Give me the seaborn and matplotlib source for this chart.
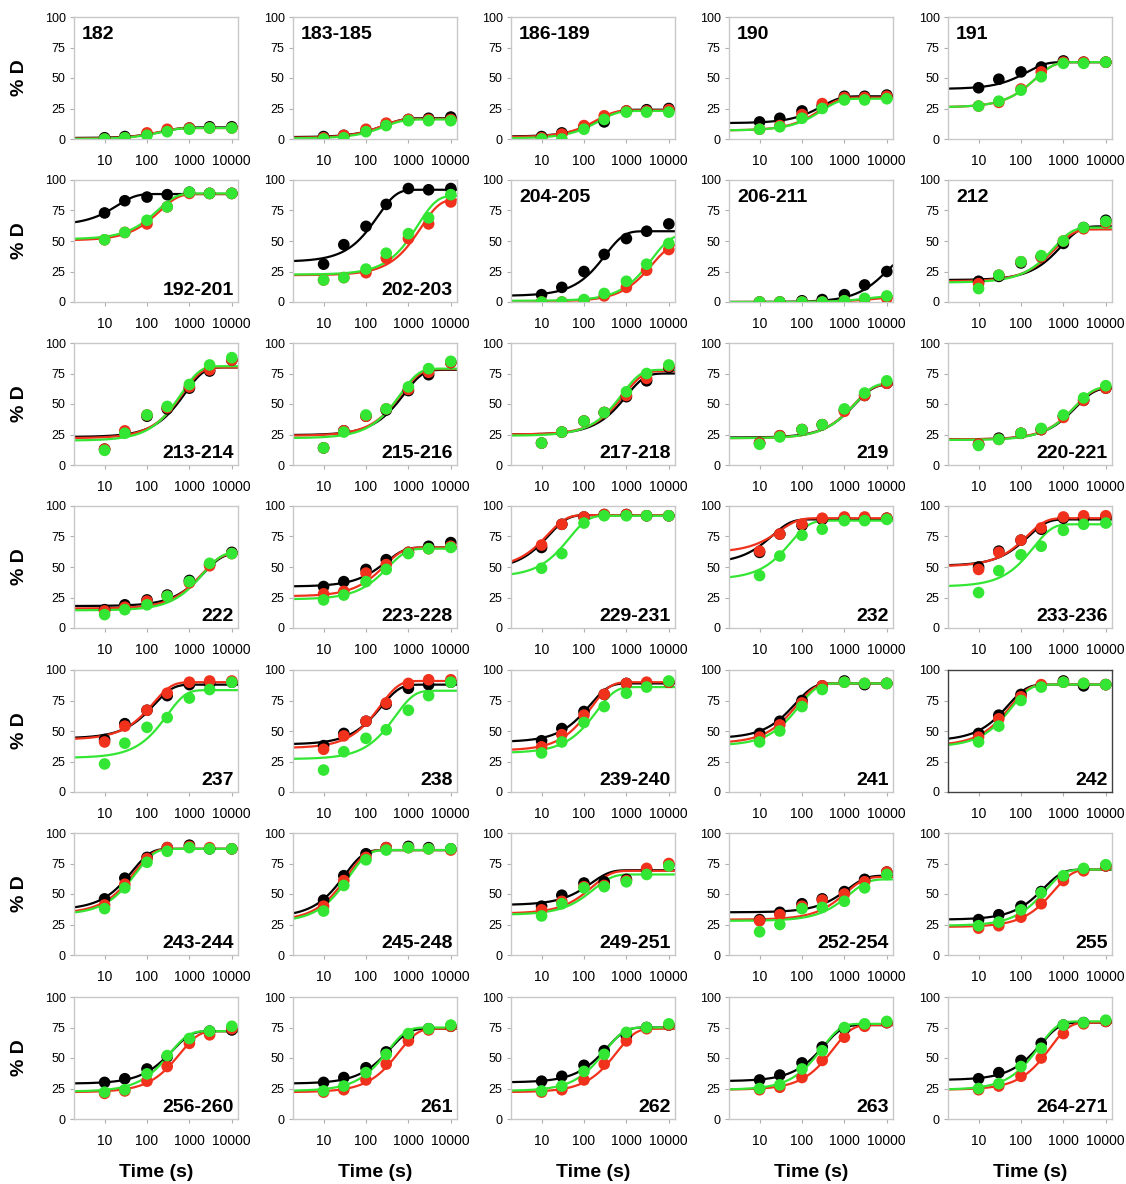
import numpy as np
import matplotlib
matplotlib.use("Agg")
import matplotlib.pyplot as plt
import seaborn as sns

sns.set_style("white")
plt.rcParams['font.family'] = ['Liberation Sans', 'DejaVu Sans']
plt.rcParams['text.color'] = 'black'
plt.rcParams['axes.labelcolor'] = 'black'
plt.rcParams['xtick.color'] = 'black'
plt.rcParams['ytick.color'] = 'black'

# deuteration time points (s)
times = [10, 30, 100, 300, 1000, 3000, 10000]

# peptide labels, row by row
labels = ["182", "183-185", "186-189", "190", "191",
          "192-201", "202-203", "204-205", "206-211", "212",
          "213-214", "215-216", "217-218", "219", "220-221",
          "222", "223-228", "229-231", "232", "233-236",
          "237", "238", "239-240", "241", "242",
          "243-244", "245-248", "249-251", "252-254", "255",
          "256-260", "261", "262", "263", "264-271"]
label_top_left = ["182", "183-185", "186-189", "190", "191", "204-205", "206-211", "212"]

# % D values for each peptide (black, red, green states)
black_pts = [
    [1, 2, 4, 7, 9, 10, 10], [2, 3, 7, 12, 16, 17, 18], [2, 5, 10, 14, 23, 24, 25],
    [14, 17, 23, 27, 35, 35, 36], [42, 49, 55, 59, 64, 63, 63],
    [73, 83, 86, 88, 90, 89, 89], [31, 47, 62, 80, 93, 92, 93], [6, 12, 25, 39, 52, 58, 64],
    [0, 0, 1, 2, 6, 14, 25], [17, 21, 32, 37, 48, 61, 67],
    [13, 27, 40, 46, 63, 77, 86], [14, 28, 40, 45, 61, 74, 84], [18, 27, 36, 43, 56, 69, 80],
    [18, 24, 29, 33, 45, 57, 67], [17, 22, 26, 29, 40, 53, 63],
    [15, 19, 23, 27, 39, 52, 62], [34, 38, 48, 56, 62, 67, 70], [66, 85, 91, 93, 93, 92, 92],
    [62, 77, 84, 89, 90, 90, 90], [50, 63, 72, 81, 90, 90, 91],
    [43, 56, 67, 79, 88, 89, 90], [38, 48, 58, 72, 85, 88, 90], [42, 52, 66, 80, 89, 89, 90],
    [48, 58, 75, 87, 91, 88, 89], [48, 63, 80, 87, 91, 87, 88],
    [46, 63, 80, 88, 90, 87, 87], [45, 65, 83, 88, 89, 88, 87], [40, 49, 59, 60, 62, 70, 74],
    [29, 35, 42, 46, 52, 62, 68], [29, 33, 40, 52, 64, 70, 73],
    [30, 33, 41, 51, 65, 72, 73], [30, 34, 42, 55, 67, 74, 76], [31, 35, 44, 56, 68, 75, 77],
    [32, 36, 46, 59, 74, 77, 79], [33, 38, 48, 62, 77, 79, 80],
]
red_pts = [
    [0, 1, 5, 8, 9, 9, 9], [1, 3, 8, 13, 16, 16, 16], [1, 4, 11, 19, 23, 23, 24],
    [8, 11, 20, 29, 34, 34, 35], [27, 30, 41, 55, 63, 63, 63],
    [51, 57, 64, 78, 89, 89, 89], [18, 20, 24, 36, 52, 64, 82], [0, 0, 1, 5, 12, 26, 43],
    [0, 0, 0, 0, 1, 2, 3], [15, 22, 33, 37, 50, 60, 65],
    [13, 28, 41, 47, 64, 78, 86], [14, 28, 40, 46, 62, 76, 84], [18, 27, 36, 43, 57, 71, 81],
    [18, 24, 29, 33, 44, 57, 67], [17, 21, 26, 29, 39, 53, 63],
    [14, 17, 22, 26, 37, 51, 61], [28, 30, 45, 52, 62, 65, 67], [68, 85, 91, 93, 93, 92, 92],
    [63, 77, 85, 90, 91, 91, 90], [48, 62, 72, 82, 91, 92, 92],
    [41, 54, 67, 81, 90, 91, 91], [35, 46, 58, 73, 89, 92, 92], [37, 47, 63, 80, 89, 90, 90],
    [45, 55, 73, 87, 90, 89, 89], [45, 60, 78, 88, 90, 89, 88],
    [41, 58, 79, 88, 89, 88, 87], [40, 61, 80, 88, 88, 87, 86], [37, 44, 56, 57, 61, 71, 75],
    [28, 33, 40, 45, 50, 60, 68], [22, 24, 31, 42, 61, 69, 73],
    [21, 23, 31, 43, 62, 69, 74], [22, 24, 32, 45, 64, 73, 76], [22, 24, 32, 45, 64, 74, 77],
    [24, 26, 34, 48, 67, 76, 79], [24, 27, 35, 50, 70, 78, 80],
]
green_pts = [
    [0, 1, 3, 6, 8, 9, 9], [0, 1, 6, 11, 15, 15, 15], [0, 0, 8, 16, 22, 22, 22],
    [8, 10, 17, 25, 32, 32, 33], [27, 31, 40, 51, 62, 62, 63],
    [51, 57, 67, 78, 90, 89, 89], [18, 20, 27, 40, 56, 69, 88], [0, 0, 2, 7, 17, 31, 48],
    [0, 0, 0, 0, 1, 3, 5], [11, 22, 33, 38, 50, 61, 66],
    [12, 26, 41, 48, 66, 82, 88], [14, 27, 41, 46, 64, 79, 85], [18, 27, 36, 43, 60, 75, 82],
    [17, 23, 29, 33, 46, 59, 69], [16, 21, 26, 30, 41, 55, 65],
    [11, 15, 19, 26, 38, 53, 61], [23, 27, 38, 48, 61, 65, 66], [49, 61, 86, 92, 92, 92, 92],
    [43, 59, 76, 81, 88, 88, 89], [29, 47, 60, 67, 80, 85, 86],
    [23, 40, 53, 61, 77, 84, 90], [18, 33, 44, 51, 67, 79, 90], [32, 41, 57, 70, 81, 86, 91],
    [41, 50, 70, 84, 90, 89, 89], [41, 54, 75, 86, 90, 89, 88],
    [38, 55, 76, 85, 88, 87, 87], [36, 57, 78, 86, 88, 87, 87], [32, 42, 55, 56, 60, 66, 73],
    [19, 25, 38, 39, 44, 55, 66], [24, 27, 37, 51, 65, 71, 74],
    [22, 24, 37, 52, 66, 72, 76], [23, 27, 38, 53, 70, 74, 77], [23, 27, 39, 53, 71, 75, 78],
    [25, 28, 41, 56, 75, 78, 80], [25, 29, 43, 58, 77, 79, 81],
]

# exponential fit parameters: (start %D, plateau %D, time constant s)
black_fit = [
    (0.8, 9.5, 250), (1.5, 17, 280), (2, 24, 250), (13, 35, 300), (41, 63, 140),
    (63, 88.5, 20), (33, 92, 190), (5, 58, 320), (0, 40, 10000), (18, 62, 900),
    (23, 80, 800), (24.5, 78, 800), (25, 75, 1000), (22.5, 66, 1800), (21, 63, 2000),
    (18, 61, 2200), (34, 66, 300), (48, 92.5, 15), (53, 89, 20), (51, 89, 150),
    (44, 88, 150), (39, 88, 230), (41, 89, 140), (44, 89, 70), (42, 88, 50),
    (37, 87, 45), (31, 86, 32), (41, 69.5, 150), (35, 65, 1200), (29, 70, 350),
    (29, 72, 400), (29, 74, 370), (30, 75, 350), (31, 77, 330), (32, 79, 300),
]
red_fit = [
    (0.3, 9, 200), (1, 16.5, 250), (1.5, 23.5, 200), (7, 34, 280), (26, 63, 220),
    (50.5, 88.5, 200), (22, 84, 2000), (0.5, 48, 4000), (0, 4, 5000), (17, 59.5, 650),
    (22, 80, 700), (24, 78.5, 700), (25, 77, 900), (22, 66, 1700), (21, 63.5, 1900),
    (16, 61, 2000), (26, 66, 280), (49, 92.5, 14), (62, 90, 30), (50.5, 90, 140),
    (43, 90, 140), (36, 91, 220), (34, 90, 150), (40, 89, 75), (38, 88, 55),
    (34, 87, 50), (28, 86, 36), (34, 69, 160), (29, 64, 1100), (23, 70, 600),
    (22, 72, 600), (22, 74, 600), (22, 74, 600), (24, 77, 550), (24, 79, 500),
]
green_fit = [
    (0, 9, 220), (0.5, 16, 280), (0.5, 23, 230), (7, 33, 300), (26, 63, 220),
    (51.5, 89, 180), (22.5, 87, 1700), (1, 55, 4000), (0, 5, 4000), (16, 61, 600),
    (20, 81, 650), (22, 79, 650), (24, 78, 800), (22, 67, 1800), (20.5, 64, 1900),
    (14.5, 62, 2100), (23.5, 65, 330), (42, 92, 45), (40, 88, 55), (34, 85, 200),
    (28, 83.5, 300), (27, 83, 500), (32, 86, 200), (38, 89, 85), (37, 88, 60),
    (33, 87, 55), (27, 86, 40), (33, 66, 170), (28, 62, 1300), (24, 70, 380),
    (22.5, 72, 350), (23, 75, 330), (23, 75, 320), (24, 78, 300), (24, 80, 270),
]

colors = ["black", "#f0321c", "#33e633"]


def uptake(t, start, plateau, tau):
    return plateau - (plateau - start) * np.exp(-t / tau)


fig = plt.figure(figsize=(11.26, 11.84), dpi=100)
W, H = 1126, 1184
col_left = [74, 293, 511, 729, 948]
row_top = [17, 180, 343, 506, 670, 833, 997]
ax_w, ax_h = 164, 122

t_fine = np.logspace(np.log10(1.9), np.log10(14000), 300)

for i, lab in enumerate(labels):
    r, c = divmod(i, 5)
    ax = fig.add_axes([col_left[c] / W, 1 - (row_top[r] + ax_h) / H, ax_w / W, ax_h / H])
    ax.set_xscale("log")

    for pts, fit, col in zip([black_pts[i], red_pts[i], green_pts[i]],
                             [black_fit[i], red_fit[i], green_fit[i]], colors):
        sns.lineplot(x=t_fine, y=uptake(t_fine, *fit), color=col, linewidth=1.6, ax=ax, zorder=2)
        sns.scatterplot(x=times, y=pts, color=col, s=70, edgecolor="none", ax=ax, zorder=3)

    ax.set_xlim(1.9, 14000)
    ax.set_ylim(0, 100)
    ax.set_xticks([10, 100, 1000, 10000])
    ax.set_xticklabels(["10", "100", "1000", "10000"])
    ax.minorticks_off()
    ax.set_yticks([0, 25, 50, 75, 100])
    ax.tick_params(axis="x", labelsize=10, length=3, width=0.8, color="#b0b0b0", pad=8)
    ax.tick_params(axis="y", labelsize=9, length=3, width=0.8, color="#b0b0b0", pad=3)
    ax.tick_params(bottom=True, left=True)

    edge = "#404040" if lab == "242" else "#c8c8c8"
    for sp in ax.spines.values():
        sp.set_color(edge)
        sp.set_linewidth(1.0)

    if lab in label_top_left:
        ax.text(0.05, 0.93, lab, transform=ax.transAxes, ha="left", va="top",
                fontsize=14, fontweight="bold")
    else:
        ax.text(0.975, 0.06, lab, transform=ax.transAxes, ha="right", va="baseline",
                fontsize=14, fontweight="bold")

    ax.set_xlabel("")
    ax.set_ylabel("")
    if c == 0:
        ax.set_ylabel("% D", fontsize=14, fontweight="bold")
        ax.yaxis.set_label_coords(-0.28, 0.5)
    if r == 6:
        ax.set_xlabel("Time (s)", fontsize=14, fontweight="bold")
        ax.xaxis.set_label_coords(0.5, -0.37)

fig.savefig("out.png", dpi=100)
